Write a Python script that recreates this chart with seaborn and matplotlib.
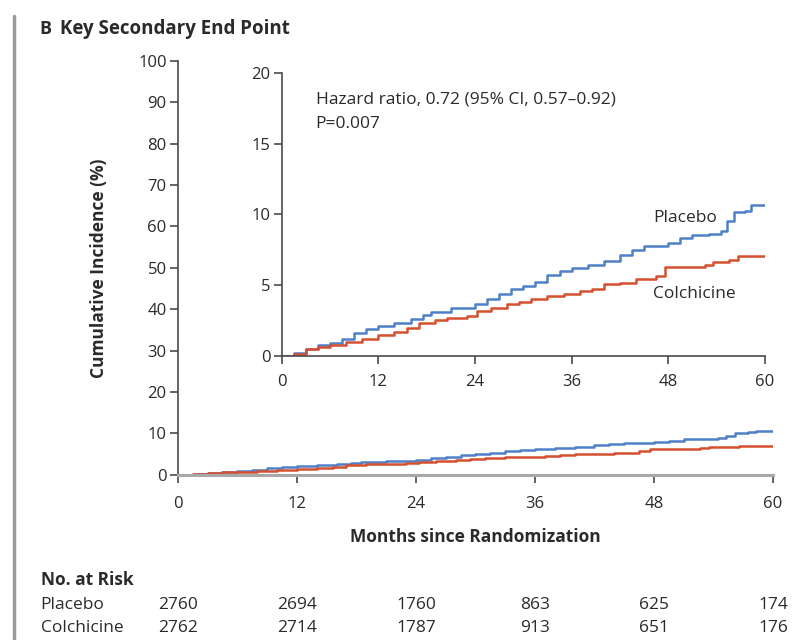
import matplotlib
matplotlib.use("Agg")
import matplotlib.pyplot as plt
import matplotlib.transforms as mtransforms
import numpy as np
import pandas as pd
import seaborn as sns

# cumulative incidence (%), step curves
placebo_months = [0, 1.5, 3, 4.5, 6, 7.5, 9, 10.5, 12, 14, 16, 17.5, 18.5, 21, 24, 25.5, 27, 28.5, 30,
                  31.5, 33, 34.5, 36, 38, 40, 42, 43.5, 45, 48, 49.5, 51, 53, 54.5, 55.3, 56.2, 57.5, 58.3, 60]
placebo_cum = [0, 0.2, 0.5, 0.75, 0.9, 1.2, 1.6, 1.9, 2.1, 2.35, 2.6, 2.9, 3.1, 3.35, 3.65, 4.0, 4.4, 4.75, 4.95,
               5.2, 5.7, 6.0, 6.2, 6.4, 6.7, 7.1, 7.5, 7.75, 8.0, 8.3, 8.55, 8.6, 8.8, 9.5, 10.2, 10.25, 10.65, 10.65]
colch_months = [0, 1.5, 3, 4.5, 6, 8, 10, 12, 14, 15.6, 17, 19, 20.5, 23, 24.3, 26, 28, 29.5, 31, 33, 35,
                37, 38.5, 40, 42, 44, 46.5, 47.6, 50, 52.6, 53.5, 55.6, 56.6, 60]
colch_cum = [0, 0.15, 0.45, 0.65, 0.8, 0.95, 1.2, 1.5, 1.7, 1.95, 2.35, 2.55, 2.7, 2.85, 3.2, 3.35, 3.65, 3.8,
             4.0, 4.25, 4.35, 4.6, 4.7, 5.05, 5.15, 5.4, 5.65, 6.25, 6.25, 6.45, 6.65, 6.8, 7.05, 7.05]

x_ticks = [0, 12, 24, 36, 48, 60]
risk_groups = ["Placebo", "Colchicine"]
risk_placebo = [2760, 2694, 1760, 863, 625, 174]
risk_colch = [2762, 2714, 1787, 913, 651, 176]

df = pd.concat([
    pd.DataFrame({"month": placebo_months, "cum": placebo_cum, "group": "Placebo"}),
    pd.DataFrame({"month": colch_months, "cum": colch_cum, "group": "Colchicine"}),
])
pal = {"Placebo": "#4f80c8", "Colchicine": "#d4502f"}

sns.set_style("ticks")
plt.rcParams["font.family"] = ["Open Sans", "DejaVu Sans"]
txt = "#2a2a2a"
spine_c = "#4a4a4a"
fs = 12.5

fig = plt.figure(figsize=(8.12, 6.4), dpi=100)

def style_axes(ax):
    for s in ["top", "right"]:
        ax.spines[s].set_visible(False)
    for s in ["left", "bottom"]:
        ax.spines[s].set_color(spine_c)
        ax.spines[s].set_linewidth(1.2)
    ax.tick_params(direction="out", length=6, width=1.2, color=spine_c,
                   labelsize=12, labelcolor=txt, pad=2)

# main axes
ax = fig.add_axes([0.219, 0.258, 0.733, 0.647])
sns.lineplot(data=df, x="month", y="cum", hue="group", palette=pal, ax=ax,
             drawstyle="steps-post", linewidth=1.8, legend=False, estimator=None)
ax.set_xlim(0, 60)
ax.set_ylim(0, 100)
ax.set_xticks(x_ticks)
ax.set_yticks(range(0, 101, 10))
style_axes(ax)
ax.spines["bottom"].set_color("#a8a8a8")
ax.spines["bottom"].set_linewidth(2.2)
ax.tick_params(axis="x", pad=9)
ax.set_xlabel("Months since Randomization", fontsize=fs, fontweight="bold", color=txt, labelpad=12)
ax.set_ylabel("Cumulative Incidence (%)", fontsize=fs, fontweight="bold", color=txt, labelpad=22)

# inset
ins = fig.add_axes([0.347, 0.444, 0.595, 0.442])
sns.lineplot(data=df, x="month", y="cum", hue="group", palette=pal, ax=ins,
             drawstyle="steps-post", linewidth=1.8, legend=False, estimator=None)
ins.set_xlim(0, 60)
ins.set_ylim(0, 20)
ins.set_xticks(x_ticks)
ins.set_yticks([0, 5, 10, 15, 20])
style_axes(ins)
ins.set_xlabel("")
ins.set_ylabel("")
ins.patch.set_alpha(0)
ins.tick_params(axis="x", pad=7)
ins.text(0.07, 0.905, "Hazard ratio, 0.72 (95% CI, 0.57\u20130.92)", transform=ins.transAxes,
         fontsize=fs, color=txt, va="center", ha="left")
ins.text(0.07, 0.82, "P=0.007", transform=ins.transAxes,
         fontsize=fs, color=txt, va="center", ha="left")
ins.text(46.1, 9.75, "Placebo", fontsize=fs, color=txt, va="center")
ins.text(46.1, 4.38, "Colchicine", fontsize=fs, color=txt, va="center")

# header and left bar
fig.text(0.048, 0.955, "B", fontsize=13, fontweight="bold", color=txt, va="center")
fig.text(0.074, 0.955, "Key Secondary End Point", fontsize=13.5, fontweight="bold", color=txt, va="center")
fig.add_artist(plt.Line2D([0.017, 0.017], [0.0, 0.975], color="#9a9a9a", linewidth=2.5))

# number at risk table
blend = mtransforms.blended_transform_factory(ax.transData, fig.transFigure)
fig.text(0.05, 0.094, "No. at Risk", fontsize=fs, fontweight="bold", color=txt, va="center")
for row_y, name, vals in [(0.055, risk_groups[0], risk_placebo), (0.019, risk_groups[1], risk_colch)]:
    fig.text(0.05, row_y, name, fontsize=fs, color=txt, va="center")
    for xt, v in zip(x_ticks, vals):
        ax.text(xt, row_y, str(v), transform=blend, fontsize=fs, color=txt, ha="center", va="center")

fig.savefig("out.png", dpi=100)
